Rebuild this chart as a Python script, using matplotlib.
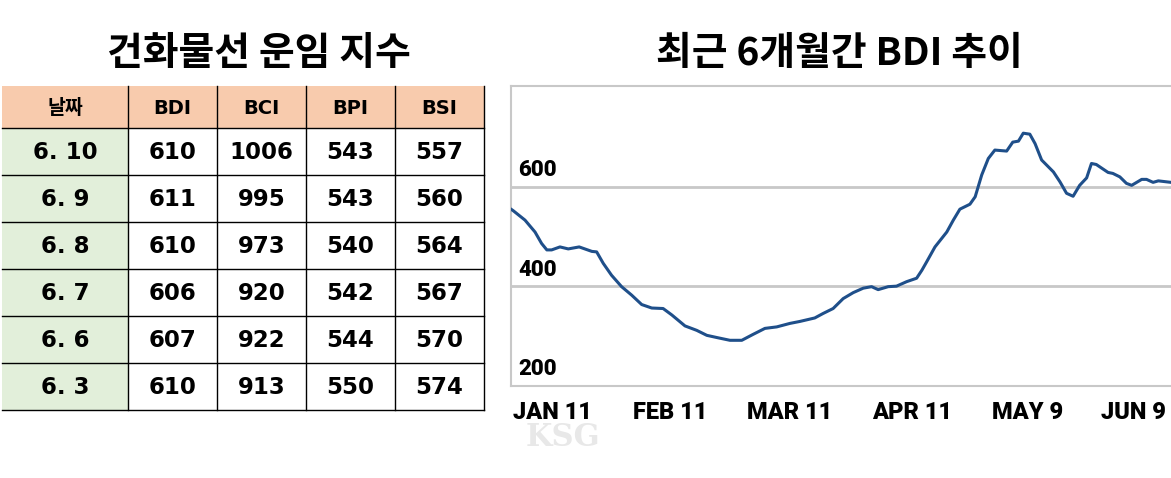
"""Dry bulk freight index table and 6-month BDI trend, rendered to out.png."""
import matplotlib
matplotlib.use("Agg")
import matplotlib.pyplot as plt  # noqa: E402
from matplotlib.patches import Rectangle  # noqa: E402

W, H, DPI = 1171, 478, 100

# --------------------------------------------------------------------------- #
# data
# --------------------------------------------------------------------------- #
header = ["날짜", "BDI", "BCI", "BPI", "BSI"]
dates = ["6. 10", "6. 9", "6. 8", "6. 7", "6. 6", "6. 3"]
bdi = [610, 611, 610, 606, 607, 610]
bci = [1006, 995, 973, 920, 922, 913]
bpi = [543, 543, 540, 542, 544, 550]
bsi = [557, 560, 564, 567, 570, 574]

# BDI curve, x = days after Jan 11
days = [0.0, 0.5, 3.2, 5.5, 7.0, 8.2, 9.3, 11.2, 13.1, 15.6, 18.5, 19.6,
        21.1, 23.0, 25.3, 27.6, 29.9, 32.2, 34.8, 36.8, 39.8, 42.5, 44.8,
        47.4, 50.1, 52.8, 55.4, 58.1, 60.8, 63.8, 66.1, 69.5, 71.4, 73.7,
        76.0, 78.3, 80.6, 82.5, 84.0, 86.3, 88.2, 90.5, 92.8, 94.0, 95.1,
        97.0, 99.7, 101.2, 102.7, 105.0, 106.2, 107.7, 109.2, 110.7, 113.4,
        114.8, 116.1, 117.2, 118.7, 119.9, 121.4, 124.1, 125.6, 127.1, 128.6,
        130.1, 131.7, 132.8, 133.9, 136.6, 137.7, 139.3, 140.8, 142.0, 144.3,
        145.4, 146.9, 148.1, 151.0]
bdi_curve = [555, 552, 533, 509, 486, 473, 473, 479, 475, 479, 470, 469,
             446, 422, 399, 382, 363, 356, 355, 342, 320, 311, 301,
             296, 291, 291, 303, 315, 318, 325, 329, 336, 345, 355,
             375, 387, 396, 399, 393, 399, 400, 409, 416, 432, 449,
             479, 509, 533, 555, 565, 580, 624, 657, 674, 672,
             690, 692, 708, 706, 687, 654, 630, 610, 587, 581,
             603, 618, 647, 645, 629, 627, 620, 607, 603, 615,
             615, 609, 612, 609]
y_ticks = [200, 400, 600]
tick_days = [9.4, 36.4, 63.8, 91.7, 118.1, 142.5]
tick_labels = ["JAN 11", "FEB 11", "MAR 11", "APR 11", "MAY 9", "JUN 9"]

PEACH = "#f8cbad"
GREEN = "#e2efda"
GRID = "#c8c8c8"
LINE = "#1f4f8a"
KR = ["Noto Sans CJK KR", "DejaVu Sans"]
TABLE_FONT = ["DejaVu Sans", "Noto Sans CJK KR"]
COND = ["Roboto", "DejaVu Sans"]

fig = plt.figure(figsize=(W / DPI, H / DPI), dpi=DPI)
bg = fig.add_axes([0, 0, 1, 1])
bg.set_xlim(0, W)
bg.set_ylim(H, 0)
bg.axis("off")

# --------------------------------------------------------------------------- #
# titles
# --------------------------------------------------------------------------- #
bg.text(259, 53, "건화물선 운임 지수", ha="center", va="center",
        fontsize=28, fontweight="black", family=KR)
bg.text(839, 53, "최근 6개월간 BDI 추이", ha="center", va="center",
        fontsize=28, fontweight="black", family=KR)

# --------------------------------------------------------------------------- #
# table
# --------------------------------------------------------------------------- #
col_edges = [2, 128, 217, 306, 395, 484]
row_edges = [86, 128, 175, 222, 269, 316, 363, 410]
rows = [header] + [[d, str(a), str(b), str(c), str(e)]
                   for d, a, b, c, e in zip(dates, bdi, bci, bpi, bsi)]

for r, row in enumerate(rows):
    y0, y1 = row_edges[r], row_edges[r + 1]
    for c, val in enumerate(row):
        x0, x1 = col_edges[c], col_edges[c + 1]
        face = PEACH if r == 0 else (GREEN if c == 0 else "white")
        bg.add_patch(Rectangle((x0, y0), x1 - x0, y1 - y0,
                               facecolor=face, edgecolor="none"))
        size = 14 if r == 0 else 16.5
        bg.text((x0 + x1) / 2, (y0 + y1) / 2 + 1, val, ha="center",
                va="center", fontsize=size, fontweight="bold",
                family=TABLE_FONT)

for y in row_edges[1:]:
    bg.plot([col_edges[0], col_edges[-1]], [y, y], color="black", lw=1)
for x in col_edges[1:]:
    bg.plot([x, x], [row_edges[0], row_edges[-1]], color="black", lw=1)

# --------------------------------------------------------------------------- #
# BDI chart
# --------------------------------------------------------------------------- #
ax = fig.add_axes([511 / W, (H - 386) / H, 660 / W, 300 / H])
ax.set_xlim(0, 151)
ax.set_ylim(199, 803)
for side in ("left", "top", "bottom"):
    ax.spines[side].set_color(GRID)
    ax.spines[side].set_linewidth(1.5)
ax.spines["right"].set_visible(False)
for v in y_ticks[1:]:
    ax.axhline(v, color=GRID, lw=2, zorder=1)
ax.plot(days, bdi_curve, color=LINE, lw=2.2, solid_joinstyle="round",
        zorder=3)

ax.set_yticks([])
for v in y_ticks:
    ax.annotate(str(v), xy=(0, v), xycoords=("axes fraction", "data"),
                xytext=(5, 4), textcoords="offset points", ha="left",
                va="bottom", fontsize=16, fontweight="black", family=COND)

ax.set_xticks(tick_days, tick_labels)
ax.tick_params(axis="x", length=0, pad=11)
for lab in ax.get_xticklabels():
    lab.set_fontsize(17)
    lab.set_fontweight("black")
    lab.set_family(COND)

# faint watermark
bg.text(526, 438, "KSG", ha="left", va="center", fontsize=22,
        fontweight="bold", family="DejaVu Serif", color="#e8e8e8")

fig.savefig("out.png", dpi=DPI)
